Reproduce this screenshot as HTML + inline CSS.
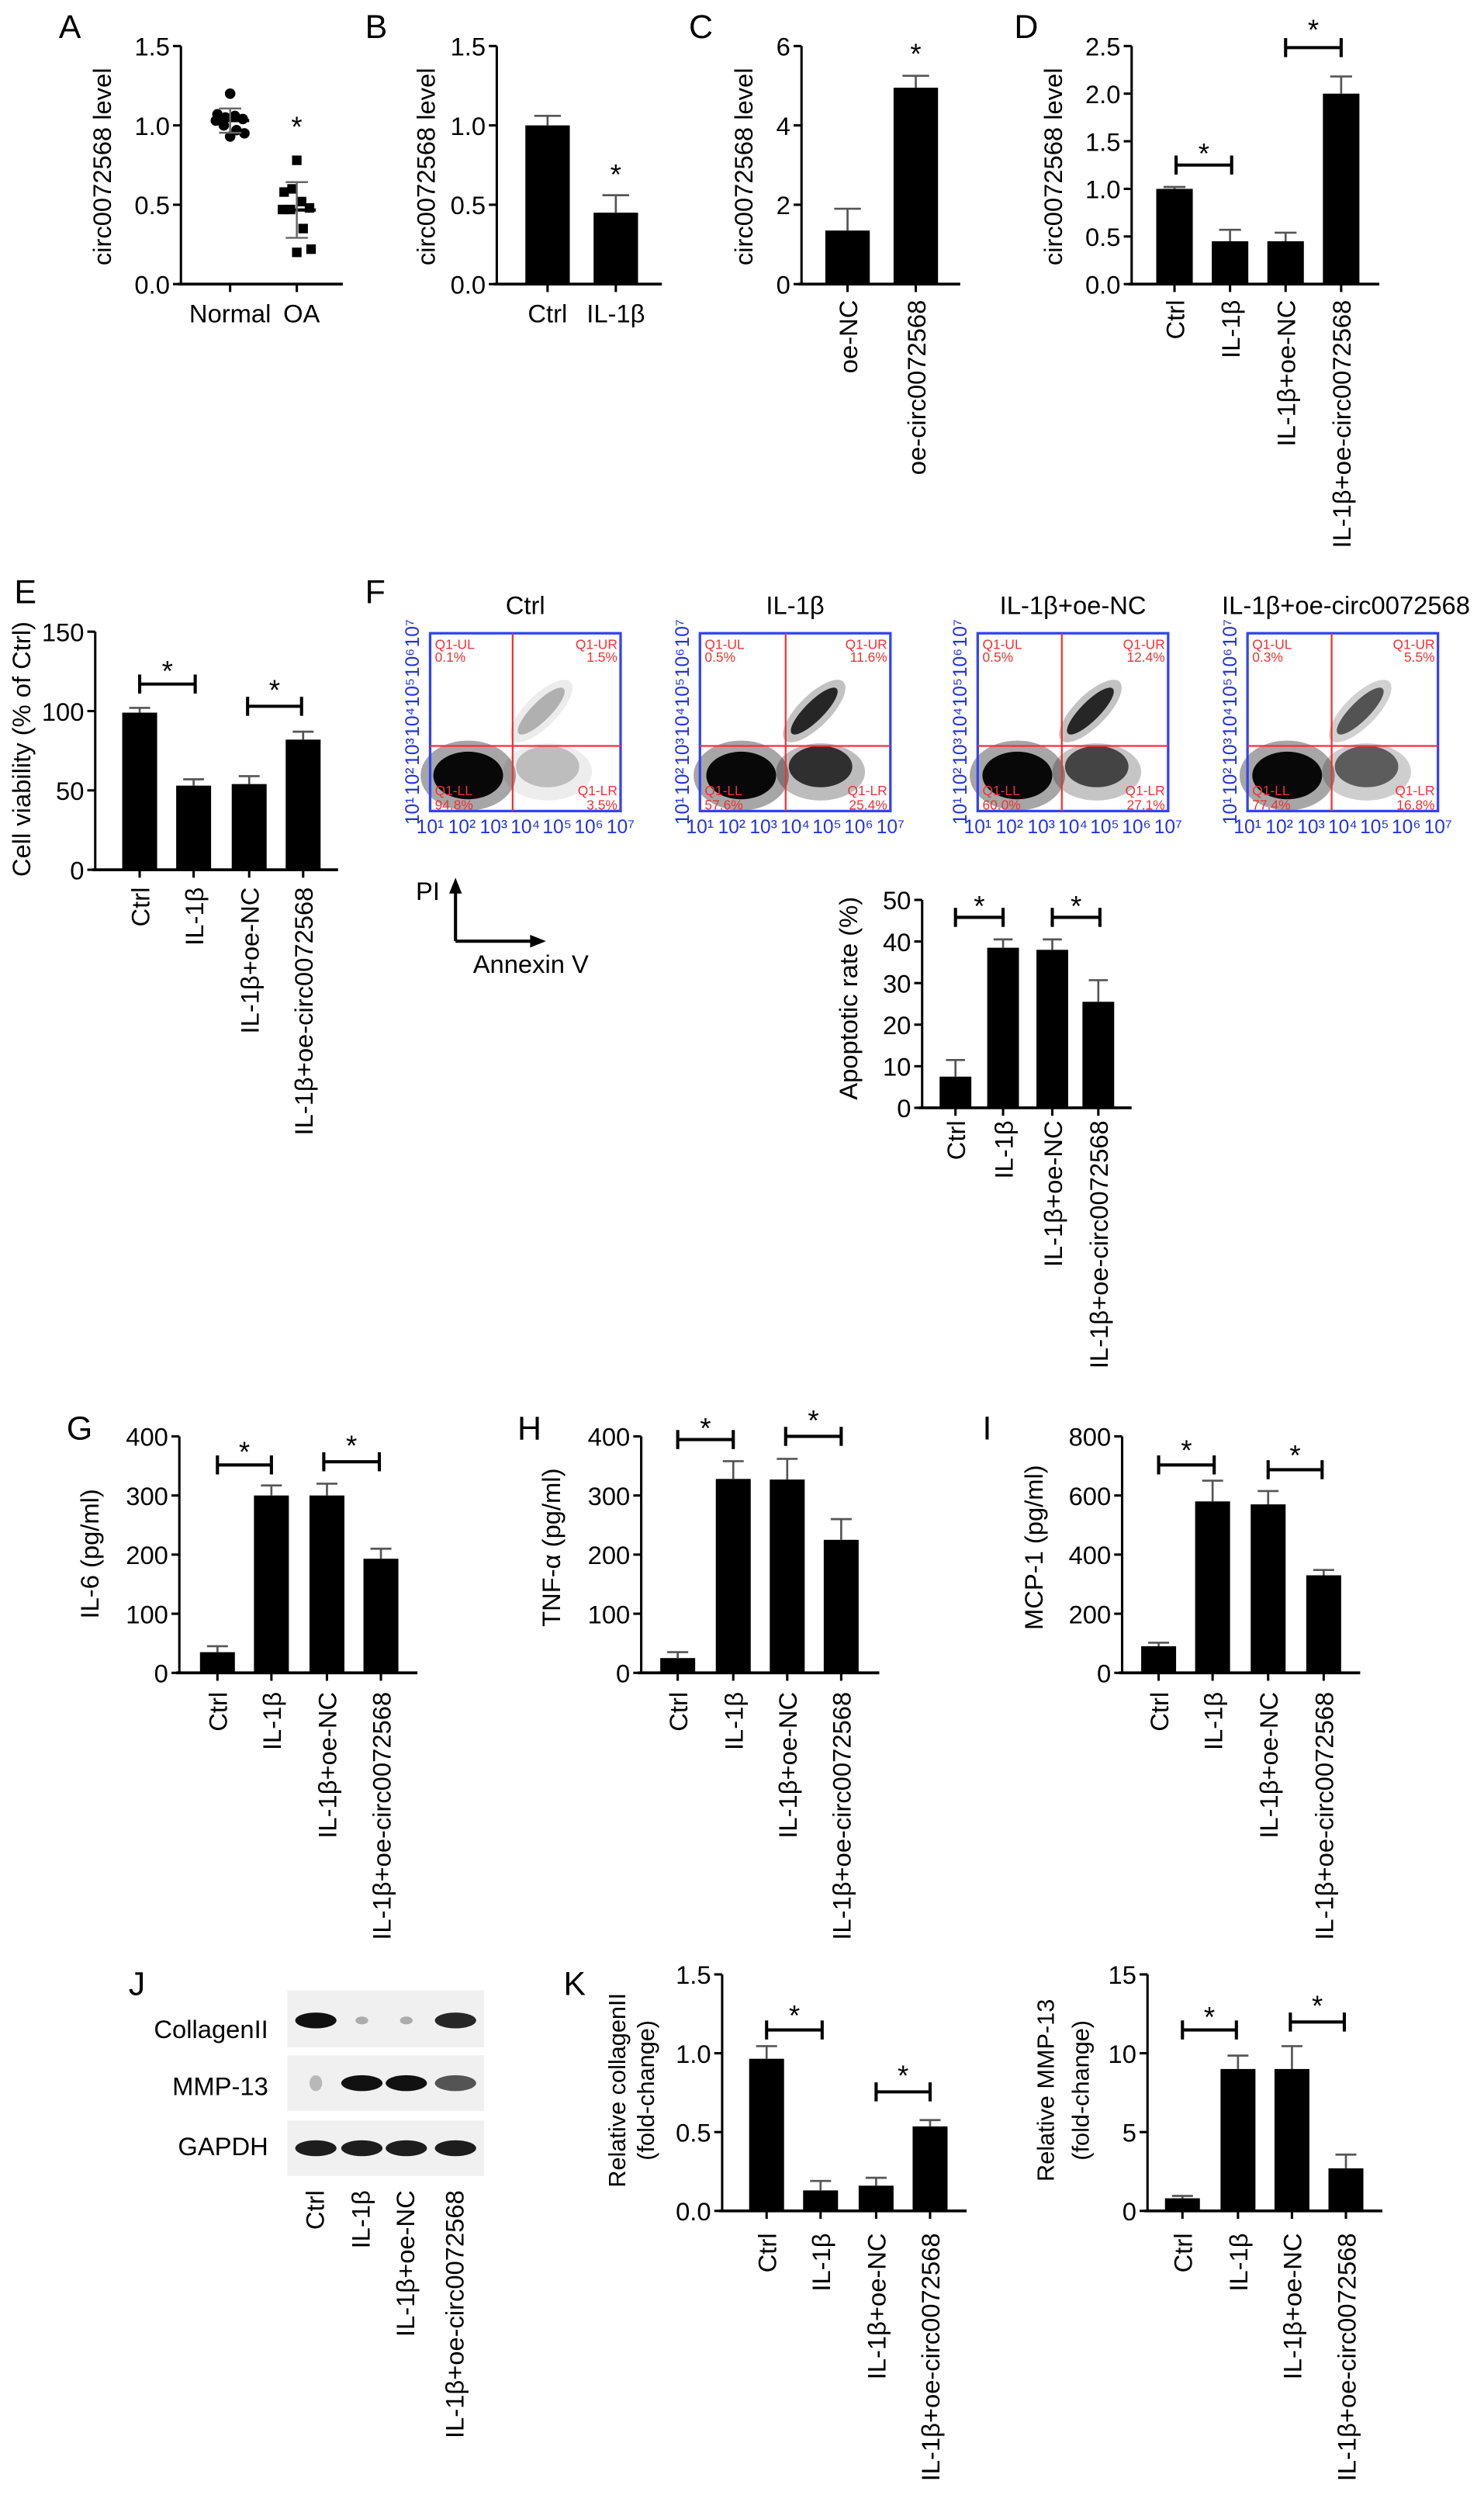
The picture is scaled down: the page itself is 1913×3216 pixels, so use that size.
<!DOCTYPE html>
<html><head><meta charset="utf-8"><style>
html,body{margin:0;padding:0;background:#fff}
svg{display:block;font-family:"Liberation Sans",Arial,sans-serif}
</style></head><body>
<svg id="fig" width="1913" height="3216" viewBox="0 0 935 1572" preserveAspectRatio="none" xmlns="http://www.w3.org/2000/svg">
<g id="root"></g>
</svg>
<script>
// ---- data ----
const aNormal=[1.2,1.07,1.05,1.06,1.04,1.03,1.0,0.97,0.95,0.93];
const aOA=[0.78,0.58,0.6,0.52,0.48,0.47,0.47,0.35,0.22,0.2];
const bCats=["Ctrl","IL-1β"];const bVals=[1.0,0.45];const bErr=[0.06,0.11];
const cCats=["oe-NC","oe-circ0072568"];const cVals=[1.35,4.95];const cErr=[0.55,0.3];
const grp=["Ctrl","IL-1β","IL-1β+oe-NC","IL-1β+oe-circ0072568"];
const dVals=[1.0,0.45,0.45,2.0];const dErr=[0.02,0.12,0.09,0.18];
const eVals=[99,53,54,82];const eErr=[3,4,5,5];
const fVals=[7.5,38.5,38,25.5];const fErr=[4,2,2.5,5.2];
const gVals=[35,300,300,193];const gErr=[10,17,20,17];
const hVals=[25,328,327,225];const hErr=[10,30,35,35];
const iVals=[90,580,570,330];const iErr=[12,70,45,18];
const k1Vals=[0.965,0.13,0.16,0.536];const k1Err=[0.08,0.06,0.05,0.04];
const k2Vals=[0.8,9.0,9.0,2.7];const k2Err=[0.15,0.85,1.45,0.87];
const flowTitles=["Ctrl","IL-1β","IL-1β+oe-NC","IL-1β+oe-circ0072568"];
const flowUL=["0.1%","0.5%","0.5%","0.3%"],flowUR=["1.5%","11.6%","12.4%","5.5%"];
const flowLL=["94.8%","57.6%","60.0%","77.4%"],flowLR=["3.5%","25.4%","27.1%","16.8%"];

const NS="http://www.w3.org/2000/svg";const root=document.getElementById('root');
function el(tag,attrs,parent,txt){const e=document.createElementNS(NS,tag);for(const k in attrs)e.setAttribute(k,attrs[k]);if(txt!==undefined)e.textContent=txt;(parent||root).appendChild(e);return e;}
function txt(x,y,s,opt,name,parent){opt=opt||{};const t=el('text',{x:x,y:y,'font-size':opt.fs||16,'text-anchor':opt.anchor||'middle',fill:opt.fill||'#000'},parent,s);
if(opt.rot)t.setAttribute('transform','rotate(-90 '+x+' '+y+')');

return t;}
function line(x1,y1,x2,y2,name,w,col,parent){const l=el('line',{x1:x1,y1:y1,x2:x2,y2:y2,stroke:col||'#000','stroke-width':w||1.5},parent);

return l;}
function axis(o){const g=el('g',{});


const y=v=>o.y0-(v-o.min)/(o.max-o.min)*(o.y0-o.y1);
line(o.x,o.y1,o.x,o.y0,'y-axis',1.5,'#000',g);line(o.x-2,o.y0,o.x2,o.y0,'x-axis',1.8,'#000',g);
o.ticks.forEach((t,i)=>{line(o.x-5,y(t),o.x,y(t),'y-tick',1.5,'#000',g);txt(o.x-7,y(t)+6,o.tl[i],{anchor:'end',fs:16},'y-tick-label',g);});
const cy=o.ty||(o.y0+o.y1)/2;
txt(o.lx,cy,o.title,{rot:1,fs:o.tfs||16},'y-axis-title',g);
if(o.title2)txt(o.lx2,cy,o.title2,{rot:1,fs:o.tfs||16},'y-axis-title',g);
return {g:g,y:y};}
function bars(ax,xs,vals,errs,w,cats,rot,labY){vals.forEach((v,i)=>{const r=el('rect',{x:xs[i]-w/2,y:ax.y(v),width:w,height:ax.y(0)-ax.y(v),fill:'#000'},ax.g);


const ye=ax.y(v+errs[i]);line(xs[i],ax.y(v),xs[i],ye,'error-bar',1.3,'#555',ax.g);line(xs[i]-w*0.3,ye,xs[i]+w*0.3,ye,'error-cap',1.3,'#555',ax.g);
line(xs[i],ax.y(0),xs[i],ax.y(0)+5,'x-tick',1.5,'#000',ax.g);
if(rot)txt(xs[i]+6,labY,cats[i],{rot:1,anchor:'end',fs:16},'x-tick-label',ax.g);else txt(xs[i],labY,cats[i],{fs:16},'x-tick-label',ax.g);});}
function star(x,cy,g){txt(x,cy+9,'*',{fs:18},'significance-star',g);}
function bracket(x1,x2,y,sy,g){line(x1,y,x2,y,'sig-bracket',2,'#000',g);line(x1,y-6,x1,y+6,'sig-bracket',2,'#000',g);line(x2,y-6,x2,y+6,'sig-bracket',2,'#000',g);star((x1+x2)/2,sy,g);}
function letter(x,y,s){txt(x,y,s,{fs:21,anchor:'start'},'panel-label-'+s.toLowerCase());}

// A
letter(37,24,'A');
let ax=axis({name:'panel-a',x:114,x2:216,y0:179,y1:29,min:0,max:1.5,ticks:[0,0.5,1,1.5],tl:['0.0','0.5','1.0','1.5'],lx:70,ty:105,title:'circ0072568 level'});
const offs=[0,-8,-3,3,8,-9,-4,4,9,0];
function scatter(vals,cx,sq){const m=vals.reduce((a,b)=>a+b)/vals.length;const sd=Math.sqrt(vals.reduce((a,b)=>a+(b-m)*(b-m),0)/(vals.length-1));
vals.forEach((v,i)=>{let c;if(sq)c=el('rect',{x:cx+offs[i]-3,y:ax.y(v)-3,width:6,height:6,fill:'#000'},ax.g);else c=el('circle',{cx:cx+offs[i],cy:ax.y(v),r:3.3,fill:'#000'},ax.g);

});
line(cx-12,ax.y(m),cx+12,ax.y(m),'mean-line',2,'#000',ax.g);line(cx,ax.y(m-sd),cx,ax.y(m+sd),'sd-line',1.2,'#666',ax.g);
line(cx-7,ax.y(m-sd),cx+7,ax.y(m-sd),'sd-cap',1.2,'#666',ax.g);line(cx-7,ax.y(m+sd),cx+7,ax.y(m+sd),'sd-cap',1.2,'#666',ax.g);
line(cx,ax.y(0),cx,ax.y(0)+5,'x-tick',1.5,'#000',ax.g);return m+sd;}
scatter(aNormal,145,false);scatter(aOA,187,true);
star(187,77,ax.g);
txt(145,203,'Normal',{fs:16},'x-tick-label',ax.g);txt(190,203,'OA',{fs:16},'x-tick-label',ax.g);

// B
letter(230,24,'B');
ax=axis({name:'panel-b',x:313,x2:417,y0:179,y1:29,min:0,max:1.5,ticks:[0,0.5,1,1.5],tl:['0.0','0.5','1.0','1.5'],lx:274,ty:105,title:'circ0072568 level'});
bars(ax,[345,388],bVals,bErr,28,bCats,false,203);
star(388,107,ax.g);

// C
letter(434,24,'C');
ax=axis({name:'panel-c',x:505,x2:605,y0:179,y1:29,min:0,max:6,ticks:[0,2,4,6],tl:['0','2','4','6'],lx:474,ty:105,title:'circ0072568 level'});
bars(ax,[534,577],cVals,cErr,28,cCats,true,189);
star(577,31,ax.g);

// D
letter(639,24,'D');
ax=axis({name:'panel-d',x:713,x2:869,y0:179,y1:29,min:0,max:2.5,ticks:[0,0.5,1,1.5,2,2.5],tl:['0.0','0.5','1.0','1.5','2.0','2.5'],lx:669,ty:105,title:'circ0072568 level'});
bars(ax,[740,775,810,845],dVals,dErr,23,grp,true,189);
bracket(741,776,104,94,ax.g);bracket(810,845,30,16,ax.g);

// E
letter(9,380,'E');
ax=axis({name:'panel-e',x:60,x2:213,y0:548,y1:398,min:0,max:150,ticks:[0,50,100,150],tl:['0','50','100','150'],lx:19,ty:472,title:'Cell viability (% of Ctrl)'});
bars(ax,[88,122,157,191],eVals,eErr,22,grp,true,559);
bracket(88,123,431,420,ax.g);bracket(156,190,445,432,ax.g);

// F
letter(230,380,'F');
const fx=[271,441,616,786],fq=[323,495,669,839];
fx.forEach((x0,p)=>{const g=el('g',{});


const w=120,y0=399,h=112;
txt(x0+w/2+(p===3?2:0),387,flowTitles[p],{fs:16},'flow-title',g);
const qx=fq[p],qy=470;
const lrOp=[0.2,0.75,0.65,0.55][p],urOp=[0.25,0.8,0.8,0.6][p];
const cl=[[qx-28,y0+h*0.8,22,15,0,0.95],[qx-28,y0+h*0.8,30,22,0,0.35],[qx+22,y0+h*0.75,20,13,0,lrOp],[qx+22,y0+h*0.78,28,18,0,lrOp*0.35],[qx+18,qy-22,20,6,-45,urOp],[qx+18,qy-22,26,10,-45,urOp*0.3]];
cl.forEach(c=>{const e=el('ellipse',{cx:c[0],cy:c[1],rx:c[2],ry:c[3],fill:'#000','fill-opacity':c[5],transform:'rotate('+c[4]+' '+c[0]+' '+c[1]+')'},g);

});
const r=el('rect',{x:x0,y:y0,width:w,height:h,fill:'none',stroke:'#3344ee','stroke-width':1.6},g);


line(qx,y0,qx,y0+h,'quadrant-line',1.1,'#e33',g);line(x0,qy,x0+w,qy,'quadrant-line',1.1,'#e33',g);
const rc={fs:8.5,fill:'#e33',anchor:'start'},rr={fs:8.5,fill:'#e33',anchor:'end'};
txt(x0+3,y0+10,'Q1-UL',rc,'quadrant-label',g);txt(x0+3,y0+18,flowUL[p],rc,'quadrant-value',g);
txt(x0+w-2,y0+10,'Q1-UR',rr,'quadrant-label',g);txt(x0+w-2,y0+18,flowUR[p],rr,'quadrant-value',g);
txt(x0+3,y0+h-10,'Q1-LL',rc,'quadrant-label',g);txt(x0+3,y0+h-1,flowLL[p],rc,'quadrant-value',g);
txt(x0+w-2,y0+h-10,'Q1-LR',rr,'quadrant-label',g);txt(x0+w-2,y0+h-1,flowLR[p],rr,'quadrant-value',g);
const sup='¹²³⁴⁵⁶⁷';
for(let k=1;k<=7;k++){const tx=x0+(k-1)*w/6,ty=y0+h-(k-1)*h/6;
txt(tx,y0+h+14,'10'+sup[k-1],{fs:12,fill:'#2233dd'},'x-tick-label',g);
txt(x0-7,ty,'10'+sup[k-1],{fs:12,fill:'#2233dd',rot:1},'y-tick-label',g);}
});
// PI/annexin arrows
line(287,593,287,562,'pi-arrow',2);line(287,593,336,593,'annexin-arrow',2);
el('path',{d:'M283,563 L287,553 L291,563 Z',fill:'#000'});el('path',{d:'M334,589 L344,593 L334,597 Z',fill:'#000'});
txt(262,567,'PI',{fs:16,anchor:'start'},'pi-label');txt(298,613,'Annexin V',{fs:16,anchor:'start'},'annexin-label');
ax=axis({name:'panel-f-bar',x:581,x2:713,y0:698,y1:567,min:0,max:50,ticks:[0,10,20,30,40,50],tl:['0','10','20','30','40','50'],lx:540,ty:629,title:'Apoptotic rate (%)'});
bars(ax,[602,632,663,692],fVals,fErr,20,grp,true,706);
bracket(602,632,578,568,ax.g);bracket(663,693,578,568,ax.g);

// G H I
letter(42,907,'G');
ax=axis({name:'panel-g',x:113,x2:263,y0:1054,y1:905,min:0,max:400,ticks:[0,100,200,300,400],tl:['0','100','200','300','400'],lx:62,ty:979,title:'IL-6 (pg/ml)'});
bars(ax,[137,171,206,240],gVals,gErr,22,grp,true,1066);bracket(137,171,923,912,ax.g);bracket(204,239,921,908,ax.g);
letter(326,907,'H');
ax=axis({name:'panel-h',x:404,x2:554,y0:1054,y1:905,min:0,max:400,ticks:[0,100,200,300,400],tl:['0','100','200','300','400'],lx:353,ty:975,title:'TNF-α (pg/ml)'});
bars(ax,[427,462,496,530],hVals,hErr,22,grp,true,1066);bracket(427,462,907,897,ax.g);bracket(495,530,905,892,ax.g);
letter(619,907,'I');
ax=axis({name:'panel-i',x:707,x2:857,y0:1054,y1:905,min:0,max:800,ticks:[0,200,400,600,800],tl:['0','200','400','600','800'],lx:657,ty:975,title:'MCP-1 (pg/ml)'});
bars(ax,[730,764,799,834],iVals,iErr,22,grp,true,1066);bracket(730,765,923,911,ax.g);bracket(799,833,926,914,ax.g);

// J blot
letter(81,1257,'J');
const bj=el('g',{});


const lanes=[199,228,256,287];
const rows=[[1254,36,'CollagenII',1284,[[1,1],[0.3,0.35],[0.3,0.35],[0.9,0.85]]],[1295,35,'MMP-13',1320,[[0.25,0.6],[1,1],[1,1],[0.7,0.8]]],[1336,35,'GAPDH',1358,[[0.95,1],[0.95,1],[0.95,1],[0.95,1]]]];
rows.forEach(rw=>{const b=el('rect',{x:181,y:rw[0],width:124,height:rw[1],fill:'#f0f0f0'},bj);


txt(169,rw[3],rw[2],{fs:16,anchor:'end'},'blot-row-label',bj);
rw[4].forEach((v,i)=>{const e=el('ellipse',{cx:lanes[i],cy:rw[0]+rw[1]/2+(rw[2]==='CollagenII'?1:0),rx:v[0]<0.5?4:13,ry:v[0]<0.5&&rw[2]==='CollagenII'?2.5:5,fill:'#111','fill-opacity':v[0]},bj);

});});
grp.forEach((c,i)=>txt(lanes[i]+5,1380,c,{rot:1,anchor:'end',fs:16},'blot-lane-label',bj));

// K
letter(355,1257,'K');
ax=axis({name:'panel-k-collagen',x:455,x2:609,y0:1393,y1:1244,min:0,max:1.5,ticks:[0,0.5,1,1.5],tl:['0.0','0.5','1.0','1.5'],lx:394,lx2:412,ty:1317,title:'Relative collagenII',title2:'(fold-change)',tfs:15});
bars(ax,[483,517,552,586],k1Vals,k1Err,22,grp,true,1407);bracket(483,518,1279,1267,ax.g);bracket(552,586,1318,1305,ax.g);
ax=axis({name:'panel-k-mmp13',x:723,x2:871,y0:1393,y1:1244,min:0,max:15,ticks:[0,5,10,15],tl:['0','5','10','15'],lx:664,lx2:686,ty:1317,title:'Relative MMP-13',title2:'(fold-change)',tfs:15});
bars(ax,[745,780,814,848],k2Vals,k2Err,22,grp,true,1407);bracket(745,779,1279,1268,ax.g);bracket(813,847,1274,1261,ax.g);
</script>
</body></html>
